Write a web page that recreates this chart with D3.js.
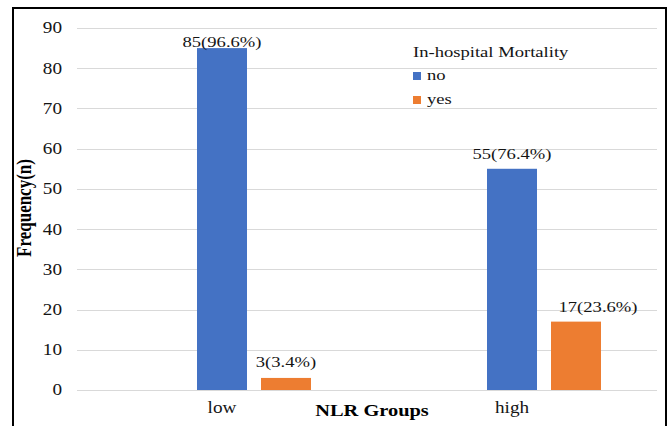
<!DOCTYPE html>
<html>
<head>
<meta charset="utf-8">
<script src="https://cdn.jsdelivr.net/npm/d3@7"></script>
<style>
  html, body { margin: 0; padding: 0; background: #fff; }
  svg { display: block; }
  text { font-family: "Liberation Serif", "Times New Roman", serif; fill: #141414; }
</style>
</head>
<body>
<svg id="chart" width="669" height="426"></svg>
<script>
// NLR groups vs in-hospital mortality
const groups = ["low", "high"];
const seriesNames = ["no", "yes"];
const noValues = [85, 55];
const yesValues = [3, 17];
const labelTexts = ["85(96.6%)", "3(3.4%)", "55(76.4%)", "17(23.6%)"];
const yTicks = [0, 10, 20, 30, 40, 50, 60, 70, 80, 90];

const colors = { no: "#4472C4", yes: "#ED7D31" };
const stretch = 1.2; // horizontal text stretch
// per-label nudges: [dx, lift above bar top]
const labelNudge = [[0, 1.5], [0, 11], [0, 10], [22, 10]];

const svg = d3.select("#chart");

const plot = { left: 77, right: 657, top: 28, bottom: 390 };

const y = d3.scaleLinear().domain([0, 90]).range([plot.bottom, plot.top]);
const x0 = d3.scaleBand().domain(groups).range([plot.left, plot.right]).padding(0);
// bars sit right of the category centre: first bar centred, second one step to the right
const x1 = d3.scaleBand().domain(seriesNames).range([-25, 89]).paddingInner(14 / 64).paddingOuter(0);

function stretchedText(sel, tx, ty, str, opts = {}) {
  const t = sel.append("text")
    .attr("transform", `translate(${tx},${ty}) scale(${stretch},1)` + (opts.rotate ? ` rotate(${opts.rotate})` : ""))
    .attr("text-anchor", opts.anchor || "middle")
    .style("font-size", (opts.size || 15.5) + "px")
    .text(str);
  if (opts.bold) t.style("font-weight", "bold").style("fill", "#000");
  if (opts.baseline) t.attr("dominant-baseline", opts.baseline);
  return t;
}

// outer frame
svg.append("rect")
  .attr("x", 13).attr("y", 8)
  .attr("width", 653).attr("height", 440)
  .attr("fill", "none").attr("stroke", "#000").attr("stroke-width", 2);

// gridlines
svg.append("g").selectAll("line").data(yTicks).join("line")
  .attr("x1", plot.left).attr("x2", plot.right)
  .attr("y1", d => Math.round(y(d)) + 0.5).attr("y2", d => Math.round(y(d)) + 0.5)
  .attr("stroke", "#d9d9d9").attr("stroke-width", 1.2);

// y tick labels
const yAxis = svg.append("g");
yTicks.forEach(t => {
  stretchedText(yAxis, 62, y(t), String(t), { anchor: "end", size: 16, baseline: "central" });
});

// bars
const rows = groups.map((g, i) => ({ group: g, no: noValues[i], yes: yesValues[i] }));
const barData = [];
rows.forEach(r => seriesNames.forEach(s => barData.push({ group: r.group, series: s, value: r[s] })));

svg.append("g").selectAll("rect").data(barData).join("rect")
  .attr("x", d => x0(d.group) + x0.bandwidth() / 2 + x1(d.series))
  .attr("y", d => y(d.value))
  .attr("width", x1.bandwidth())
  .attr("height", d => y(0) - y(d.value))
  .attr("fill", d => colors[d.series]);

// value labels
const lbl = svg.append("g");
barData.forEach((d, i) => {
  const cx = x0(d.group) + x0.bandwidth() / 2 + x1(d.series) + x1.bandwidth() / 2;
  stretchedText(lbl, cx + labelNudge[i][0], y(d.value) - labelNudge[i][1], labelTexts[i]);
});

// category labels
const xAxis = svg.append("g");
groups.forEach(g => {
  stretchedText(xAxis, x0(g) + x0.bandwidth() / 2, 413, g, { size: 16 });
});

// axis titles
stretchedText(svg, 372, 416, "NLR Groups", { size: 17, bold: true });
stretchedText(svg, 31, 208, "Frequency(n)", { size: 17, bold: true, rotate: -90 });

// legend
const leg = svg.append("g");
stretchedText(leg, 413, 57, "In-hospital Mortality", { anchor: "start" });
seriesNames.forEach((s, i) => {
  const cy = 76 + i * 24;
  leg.append("rect").attr("x", 413).attr("y", cy - 4).attr("width", 8).attr("height", 8).attr("fill", colors[s]);
  stretchedText(leg, 427, cy + 4, s, { anchor: "start" });
});
</script>
</body>
</html>
